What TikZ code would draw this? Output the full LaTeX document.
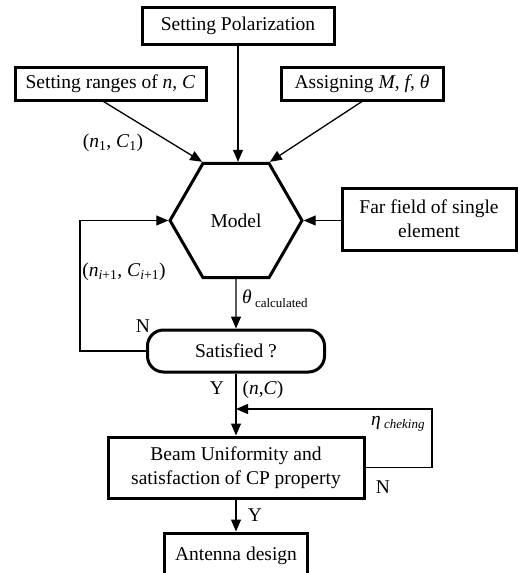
\documentclass[tikz,border=0pt]{standalone}
\usepackage{fontspec}
\setmainfont{Liberation Serif}
\usetikzlibrary{arrows.meta,shapes.geometric,calc}
\begin{document}
\begin{tikzpicture}[x=1pt,y=-1pt,
  box/.style={draw, line width=3pt, font=\fontsize{19.5}{24}\selectfont, align=center, inner sep=0pt, fill=white},
  conn/.style={line width=1.3pt, -{Triangle[length=12pt,width=10pt]}},
  lbl/.style={font=\fontsize{19.5}{22}\selectfont, inner sep=0pt}]
\useasboundingbox (0,0) rectangle (518,573);
% boxes
\node[box, minimum width=192pt, minimum height=37pt] (pol) at (238,25.5) {Setting Polarization};
\node[box, minimum width=191pt, minimum height=33pt] (rng) at (110.5,83.5) {Setting ranges of \textit{n}, \textit{C}};
\node[box, minimum width=162pt, minimum height=33pt] (asg) at (362,83.5) {Assigning \textit{M}, \textit{f}, \textit{θ}};
\node[box, regular polygon, regular polygon sides=6, minimum size=132pt] (model) at (236,220.5) {Model};
\node[box, minimum width=174pt, minimum height=62pt] (far) at (429,219) {Far field of single\\element};
\node[box, rounded corners=16pt, minimum width=177pt, minimum height=42pt] (sat) at (236,351) {Satisfied ?};
\node[box, minimum width=256pt, minimum height=61pt] (beam) at (236,467.5) {Beam Uniformity and\\satisfaction of CP property};
\node[box, minimum width=143pt, minimum height=46pt] (ant) at (236,556) {Antenna design};
% helper coordinates
\coordinate (lx) at (80,0);
\coordinate (rx) at (432,0);
\coordinate (j) at (236,409);
% connectors
\draw[conn] (pol.south) -- (pol.south |- model.north);
\draw[conn] ($(rng.south)+(-7,0)$) -- (model.120);
\draw[conn] (asg.south) -- (model.60);
\draw[conn] (far.west |- model.east) -- (model.east);
\draw[conn] (model.south) -- (sat.north);
\draw[conn] (sat.west) -| (lx |- model.west) -- (model.west);
\draw[conn] (sat.south) -- (beam.north);
\draw[conn] (beam.east) -| (rx |- j) -- (j);
\draw[conn] (beam.south) -- (ant.north);
% labels
\node[lbl] (l1) at (113,143) {(\textit{n}\textsubscript{1}, \textit{C}\textsubscript{1})};
\node[lbl] (l2) at (124,272) {(\textit{n}\textsubscript{\textit{i}+1}, \textit{C}\textsubscript{\textit{i}+1})};
\node[lbl, anchor=west] (l3) at (242,299) {\textit{θ}\,\raisebox{-4pt}{\fontsize{13}{13}\selectfont calculated}};
\node[lbl] (nl) at (143,326) {N};
\node[lbl] (y1) at (217,388) {Y};
\node[lbl] (nc) at (263,390) {(\textit{n},\textit{C})};
\node[lbl, anchor=west] (eta) at (371,424) {\textit{η}\,\raisebox{-3pt}{\fontsize{13}{13}\selectfont\textit{cheking}}};
\node[lbl] (n2) at (383,487) {N};
\node[lbl] (y2) at (255,515) {Y};
\end{tikzpicture}
\end{document}
